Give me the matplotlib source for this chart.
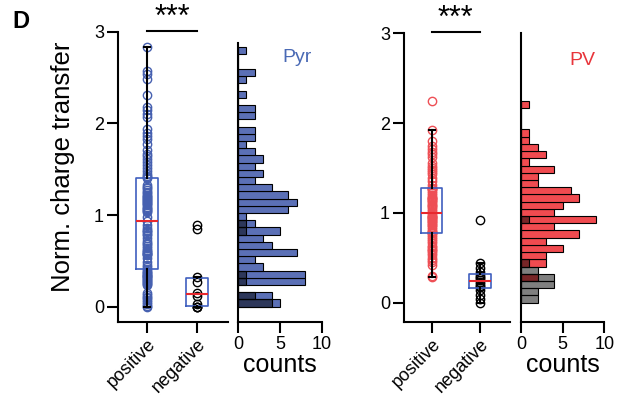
import numpy as np
import matplotlib
matplotlib.use('Agg')
import matplotlib.pyplot as plt

plt.rcParams['font.family'] = ['Liberation Sans', 'DejaVu Sans']

groups = ['positive', 'negative']
y_ticks = [0, 1, 2, 3]
count_ticks = [0, 5, 10]

# normalized charge transfer, Pyr cells
pyr_pos = [0.00, 0.01, 0.03, 0.05, 0.07, 0.09, 0.11, 0.13, 0.15,
           0.24, 0.25, 0.26, 0.27, 0.28, 0.29, 0.30, 0.31,
           0.32, 0.33, 0.34, 0.35, 0.36, 0.37, 0.38, 0.39,
           0.41, 0.43, 0.46, 0.49, 0.53,
           0.56, 0.57, 0.58, 0.59, 0.60, 0.61, 0.62,
           0.64, 0.66, 0.68, 0.70, 0.72, 0.75, 0.78,
           0.79, 0.81, 0.83, 0.84, 0.86, 0.89, 0.93, 0.98,
           1.03, 1.04, 1.05, 1.07, 1.08, 1.09,
           1.11, 1.12, 1.13, 1.14, 1.15, 1.16, 1.17,
           1.19, 1.20, 1.21, 1.22, 1.24, 1.25,
           1.27, 1.29, 1.31, 1.33, 1.40, 1.41, 1.43, 1.45, 1.48,
           1.51, 1.55, 1.58, 1.61, 1.64, 1.67, 1.71, 1.77, 1.83, 1.86,
           1.90, 1.94, 2.07, 2.10, 2.15, 2.18, 2.31, 2.48, 2.54, 2.57, 2.83]
pyr_neg = [0.00, 0.00, 0.00, 0.03, 0.12, 0.15, 0.27, 0.32, 0.85, 0.89]

# normalized charge transfer, PV cells
pv_pos = [0.28, 0.30, 0.42, 0.45, 0.47, 0.50, 0.53, 0.55,
          0.57, 0.59, 0.60, 0.62, 0.63, 0.66, 0.69, 0.71,
          0.73, 0.75, 0.77, 0.78, 0.79, 0.79, 0.80,
          0.82, 0.84, 0.86, 0.87,
          0.89, 0.90, 0.91, 0.92, 0.93, 0.94, 0.95, 0.95, 0.96,
          0.98, 1.00, 1.02, 1.04, 1.06, 1.08, 1.09, 1.10, 1.12,
          1.13, 1.14, 1.15, 1.16, 1.17, 1.18, 1.20,
          1.22, 1.24, 1.26, 1.27, 1.28, 1.28,
          1.31, 1.35, 1.39, 1.43, 1.46, 1.48, 1.50, 1.52, 1.56,
          1.62, 1.65, 1.68, 1.71, 1.75, 1.80, 1.92, 2.25]
pv_neg = [0.00, 0.04, 0.09, 0.14, 0.17, 0.19, 0.21, 0.23,
          0.25, 0.27, 0.29, 0.31, 0.34, 0.38, 0.44, 0.92]

fig = plt.figure(figsize=(6.21, 4.03), dpi=100)
W, H = 621.0, 403.0


def rect(x0, x1, ytop, ybot):
    return [x0 / W, 1 - ybot / H, (x1 - x0) / W, (ybot - ytop) / H]


def style(ax):
    for s in ['top', 'right']:
        ax.spines[s].set_visible(False)
    for s in ['left', 'bottom']:
        ax.spines[s].set_linewidth(1.5)
    ax.tick_params(width=1.5, length=8, pad=2, labelsize=13, direction='out')


def panel(box_r, hist_r, pos, neg, pt_col, bar_col, nbins, ylim, xlim,
          name, name_col, name_xy, spine_top):
    ax = fig.add_axes(box_r)
    style(ax)
    ax.plot(np.zeros(len(pos)), pos, 'o', mfc='none', mec=pt_col, ms=6, mew=1.0, zorder=2)
    ax.plot(np.ones(len(neg)), neg, 'o', mfc='none', mec='k', ms=6, mew=1.0, zorder=2)
    ax.boxplot([pos, neg], positions=[0, 1], widths=0.44, whis=1.5, showfliers=False,
               capwidths=0.12, zorder=3,
               boxprops=dict(color='#3f5fbf', lw=1.2),
               medianprops=dict(color='#e8282e', lw=1.5),
               whiskerprops=dict(color='k', lw=1.5),
               capprops=dict(color='k', lw=1.5))
    ax.set_xlim(xlim)
    ax.set_ylim(ylim)
    ax.set_yticks(y_ticks)
    ax.set_xticks([0, 1])
    ax.set_xticklabels(groups, rotation=45, ha='right', va='top', rotation_mode='anchor')
    ax.plot([0, 1], [3.01, 3.01], color='k', lw=1.5, clip_on=False)
    ax.text(0.5, 2.99, '***', ha='center', va='bottom', fontsize=22, clip_on=False)

    hx = fig.add_axes(hist_r, sharey=ax)
    style(hx)
    edges = np.linspace(min(pos + neg), max(pos + neg), nbins + 1)
    hx.hist(pos, bins=edges, orientation='horizontal', color=bar_col,
            edgecolor='k', lw=0.8)
    hx.hist(neg, bins=edges, orientation='horizontal', facecolor=(0, 0, 0, 0.5),
            edgecolor='k', lw=0.8)
    hx.set_xlim(0, 10)
    hx.set_xticks(count_ticks)
    hx.tick_params(axis='y', left=False, labelleft=False)
    hx.spines['left'].set_bounds(ylim[0], spine_top)
    hx.set_xlabel('counts', fontsize=18, labelpad=0)
    hx.text(name_xy[0], name_xy[1], name, color=name_col, fontsize=14,
            ha='center', va='center')
    return ax


panel(rect(118, 228, 31.7, 321.7), rect(238, 322, 31.7, 321.7), pyr_pos, pyr_neg,
      '#4660b0', '#5b70b6', 36, (-0.164, 3.0), (-0.58, 1.62),
      'Pyr', '#4a6ab5', (7.0, 2.72), 2.88)
panel(rect(404, 510, 33.3, 322), rect(521, 604.3, 33.3, 322), pv_pos, pv_neg,
      '#ee4f55', '#f04b50', 28, (-0.216, 3.0), (-0.573, 1.621),
      'PV', '#e8353b', (7.4, 2.70), 3.0)

fig.text(63 / W, 1 - 167 / H, 'Norm. charge transfer', rotation=90,
         ha='center', va='center', fontsize=18.5)
fig.text(12 / W, 1 - 10 / H, 'D', fontsize=17, fontweight='bold', ha='left', va='top')

fig.savefig('out.png', dpi=100)
